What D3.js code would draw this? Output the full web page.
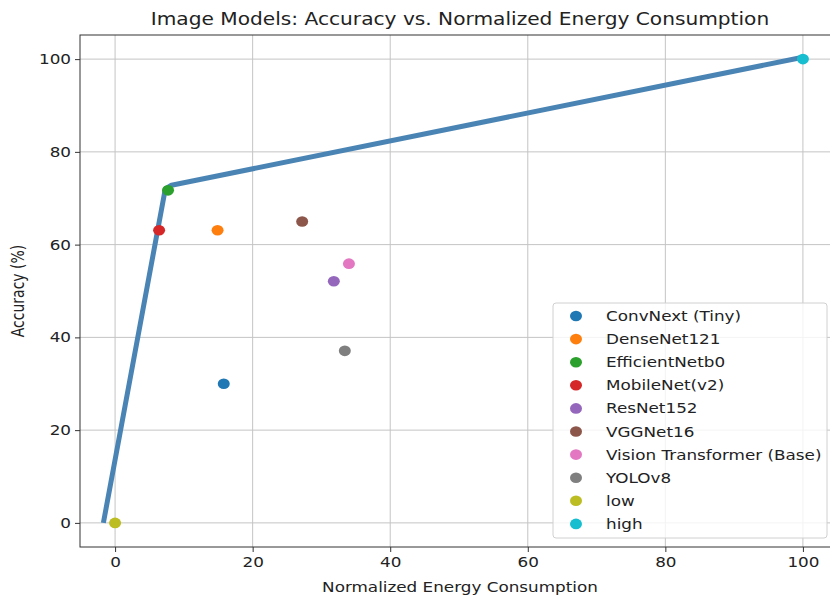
<!DOCTYPE html>
<html>
<head>
<meta charset="utf-8">
<script src="https://cdn.jsdelivr.net/npm/d3@7"></script>
<style>
  body { margin: 0; background: #fff; }
  svg { font-family: "DejaVu Sans", sans-serif; }
</style>
</head>
<body>
<div id="chart"></div>
<script>
// model points
const models = ['ConvNext (Tiny)', 'DenseNet121', 'EfficientNetb0', 'MobileNet(v2)', 'ResNet152',
  'VGGNet16', 'Vision Transformer (Base)', 'YOLOv8', 'low', 'high'];
const energy = [15.8, 14.9, 7.7, 6.4, 31.8, 27.2, 34.0, 33.4, 0, 100];
const accuracy = [30.0, 63.1, 71.7, 63.1, 52.1, 65.0, 55.9, 37.1, 0, 100];
const colors = ['#1f77b4', '#ff7f0e', '#2ca02c', '#d62728', '#9467bd',
  '#8c564b', '#e377c2', '#7f7f7f', '#bcbd22', '#17becf'];

// frontier line
const frontierX = [-1.7, 7.3, 8.2, 100];
const frontierY = [0, 72.0, 72.8, 100.4];

const xTicks = [0, 20, 40, 60, 80, 100];
const yTicks = [0, 20, 40, 60, 80, 100];

const width = 830, height = 599;
const margin = { top: 35, right: -8, bottom: 52, left: 80 };
const w = width - margin.left - margin.right;
const h = height - margin.top - margin.bottom;
const stretch = 1.2; // text in the picture is drawn a bit wide

const svg = d3.select('#chart').append('svg')
  .attr('width', width)
  .attr('height', height);

const g = svg.append('g')
  .attr('transform', `translate(${margin.left},${margin.top})`);

const x = d3.scaleLinear().domain([-5.1, 105.1]).range([0, w]);
const y = d3.scaleLinear().domain([-5.2, 105.2]).range([h, 0]);

// grid
g.append('g')
  .selectAll('line')
  .data(xTicks)
  .join('line')
  .attr('x1', d => x(d)).attr('x2', d => x(d))
  .attr('y1', 0).attr('y2', h)
  .attr('stroke', '#c4c4c4')
  .attr('stroke-width', 1);

g.append('g')
  .selectAll('line')
  .data(yTicks)
  .join('line')
  .attr('x1', 0).attr('x2', w)
  .attr('y1', d => y(d)).attr('y2', d => y(d))
  .attr('stroke', '#c4c4c4')
  .attr('stroke-width', 1);

// axes
const xAxis = g.append('g')
  .attr('transform', `translate(0,${h})`)
  .call(d3.axisBottom(x).tickValues(xTicks).tickSize(5).tickPadding(5).tickSizeOuter(0));
const yAxis = g.append('g')
  .call(d3.axisLeft(y).tickValues(yTicks).tickSize(5).tickPadding(4).tickSizeOuter(0));

[xAxis, yAxis].forEach(a => {
  a.select('.domain').remove();
  a.selectAll('line').attr('stroke', '#333');
  a.selectAll('text').attr('fill', '#222').style('font-size', '14px')
    .style('font-family', '"DejaVu Sans", sans-serif');
});
xAxis.selectAll('text').attr('transform', `scale(${stretch},1)`);
yAxis.selectAll('text').attr('x', -9 / stretch).attr('transform', `scale(${stretch},1)`);

// frame
g.append('rect')
  .attr('x', 0).attr('y', 0)
  .attr('width', w).attr('height', h)
  .attr('fill', 'none')
  .attr('stroke', '#333')
  .attr('stroke-width', 1);

// frontier
const frontier = frontierX.map((d, i) => [d, frontierY[i]]);
g.append('path')
  .datum(frontier)
  .attr('fill', 'none')
  .attr('stroke', '#4a84b4')
  .attr('stroke-width', 5)
  .attr('stroke-linejoin', 'round')
  .attr('d', d3.line().x(d => x(d[0])).y(d => y(d[1])));

// points
g.append('g')
  .selectAll('ellipse')
  .data(models)
  .join('ellipse')
  .attr('cx', (d, i) => x(energy[i]))
  .attr('cy', (d, i) => y(accuracy[i]))
  .attr('rx', 6).attr('ry', 5.3)
  .attr('fill', (d, i) => colors[i]);

// title and labels
svg.append('text')
  .attr('transform', `translate(460,25)scale(${stretch},1)`)
  .attr('text-anchor', 'middle')
  .attr('fill', '#222')
  .style('font-size', '16.8px')
  .text('Image Models: Accuracy vs. Normalized Energy Consumption');

svg.append('text')
  .attr('transform', `translate(460,592)scale(${stretch},1)`)
  .attr('text-anchor', 'middle')
  .attr('fill', '#222')
  .style('font-size', '14px')
  .text('Normalized Energy Consumption');

svg.append('text')
  .attr('transform', `translate(24,${margin.top + y(50)})scale(${stretch},1)rotate(-90)`)
  .attr('text-anchor', 'middle')
  .attr('fill', '#222')
  .style('font-size', '14px')
  .text('Accuracy (%)');

// legend
const legend = svg.append('g').attr('transform', 'translate(553,303)');
legend.append('rect')
  .attr('width', 274).attr('height', 235)
  .attr('rx', 3)
  .attr('fill', 'white').attr('fill-opacity', 0.8)
  .attr('stroke', '#d0d0d0');

const rows = legend.selectAll('g.row')
  .data(models)
  .join('g')
  .attr('class', 'row')
  .attr('transform', (d, i) => `translate(0,${13 + i * 23.1})`);

rows.append('ellipse')
  .attr('cx', 23).attr('cy', 0).attr('rx', 6).attr('ry', 5.3)
  .attr('fill', (d, i) => colors[i]);

rows.append('text')
  .attr('transform', `translate(53,5)scale(${stretch},1)`)
  .attr('fill', '#222')
  .style('font-size', '14px')
  .text(d => d);
</script>
</body>
</html>
